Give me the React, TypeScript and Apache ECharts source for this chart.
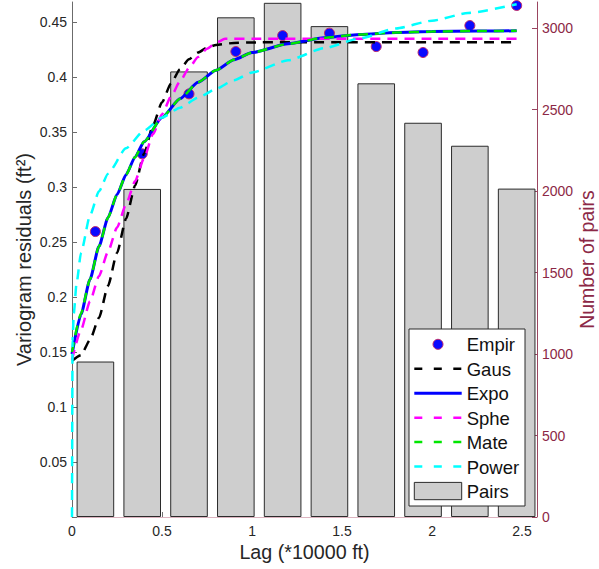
import React, { useEffect, useRef } from "react";
import * as echarts from "echarts";

// ---- data ----
const lags = [0.13, 0.39, 0.65, 0.91, 1.17, 1.43, 1.69, 1.95, 2.21, 2.47];
const empirical = [0.2594, 0.33, 0.3845, 0.423, 0.4375, 0.4397, 0.4275, 0.4221, 0.4466, 0.4648];
const pairs = [954, 2013, 2734, 3066, 3155, 3012, 2661, 2419, 2278, 2015];

const gausCurve = [
  [0, 0.142], [0.05, 0.147], [0.1, 0.161], [0.15, 0.181], [0.2, 0.21], [0.25, 0.24], [0.3, 0.271],
  [0.35, 0.301], [0.4, 0.33], [0.45, 0.356], [0.5, 0.377], [0.55, 0.394], [0.6, 0.407], [0.65, 0.416],
  [0.7, 0.422], [0.75, 0.4265], [0.8, 0.429], [0.9, 0.4308], [1.0, 0.4313], [1.5, 0.4315], [2.0, 0.4315], [2.47, 0.4315],
];
const expoCurve = [
  [0, 0.148], [0.05, 0.184], [0.1, 0.216], [0.15, 0.246], [0.2, 0.272], [0.25, 0.293], [0.3, 0.311],
  [0.35, 0.327], [0.4, 0.341], [0.5, 0.363], [0.6, 0.38], [0.7, 0.395], [0.8, 0.406], [0.9, 0.4155],
  [1.0, 0.422], [1.2, 0.43], [1.4, 0.4355], [1.6, 0.4385], [1.8, 0.4402], [2.0, 0.4411], [2.25, 0.4416], [2.47, 0.4418],
];
const spheCurve = [
  [0, 0.143], [0.05, 0.17], [0.1, 0.196], [0.15, 0.219], [0.2, 0.241], [0.25, 0.263], [0.3, 0.284],
  [0.35, 0.305], [0.4, 0.326], [0.45, 0.348], [0.5, 0.366], [0.55, 0.382], [0.6, 0.396], [0.65, 0.408],
  [0.7, 0.418], [0.75, 0.4255], [0.8, 0.431], [0.85, 0.4345], [1.0, 0.4345], [1.5, 0.4345], [2.0, 0.4345], [2.47, 0.4345],
];
const mateCurve = [
  [0, 0.15], [0.05, 0.185], [0.1, 0.216], [0.15, 0.246], [0.2, 0.272], [0.25, 0.293], [0.3, 0.311],
  [0.35, 0.327], [0.4, 0.341], [0.5, 0.363], [0.6, 0.38], [0.7, 0.395], [0.8, 0.406], [0.9, 0.4155],
  [1.0, 0.422], [1.2, 0.43], [1.4, 0.4355], [1.6, 0.4385], [1.8, 0.4402], [2.0, 0.4411], [2.25, 0.4416], [2.47, 0.4418],
];
const powerCurve = [
  [0, 0], [0.003, 0.16], [0.01, 0.185], [0.025, 0.212], [0.05, 0.24], [0.1, 0.274], [0.15, 0.296],
  [0.2, 0.312], [0.3, 0.335], [0.4, 0.351], [0.5, 0.363], [0.6, 0.372], [0.7, 0.381], [0.8, 0.389],
  [0.9, 0.397], [1.0, 0.404], [1.2, 0.415], [1.4, 0.426], [1.6, 0.435], [1.8, 0.444], [2.0, 0.451],
  [2.2, 0.458], [2.47, 0.466],
];

const xTicks = [0, 0.5, 1, 1.5, 2, 2.5];
const leftTicks = [0, 0.05, 0.1, 0.15, 0.2, 0.25, 0.3, 0.35, 0.4, 0.45];
const rightTicks = [0, 500, 1000, 1500, 2000, 2500, 3000];

const FONT = "'Liberation Sans', Arial, Helvetica, sans-serif";
const MAROON = "#8c2846";
const DASH = [10, 7];

const onTick = (ticks: number[]) => (v: number) =>
  ticks.some((t) => Math.abs(t - v) < 1e-6) ? String(+v.toFixed(3)) : "";

const legendItems = [
  { name: "Empir", kind: "dot", color: "#0a0aff" },
  { name: "Gaus", kind: "dash", color: "#000000" },
  { name: "Expo", kind: "solid", color: "#0000ff" },
  { name: "Sphe", kind: "dash", color: "#ff00ff" },
  { name: "Mate", kind: "dash", color: "#00e600" },
  { name: "Power", kind: "dash", color: "#00ffff" },
  { name: "Pairs", kind: "bar", color: "#cecece" },
];

function buildLegend() {
  const bx = 409, by = 329, bw = 116, bh = 177;
  const Z = 100;
  const out: any[] = [
    { type: "rect", z: Z, shape: { x: bx, y: by, width: bw, height: bh }, style: { fill: "#ffffff", stroke: "#2b2b2b", lineWidth: 1 } },
  ];
  legendItems.forEach((it, i) => {
    const cy = 344.3 + i * 24.45;
    const x0 = 414.3, x1 = 461.7;
    if (it.kind === "dot") {
      out.push({ type: "circle", z: Z + 1, shape: { cx: (x0 + x1) / 2, cy, r: 5 }, style: { fill: it.color, stroke: "#c02a6a", lineWidth: 1 } });
    } else if (it.kind === "bar") {
      out.push({ type: "rect", z: Z + 1, shape: { x: x0, y: cy - 8.6, width: x1 - x0, height: 17.3 }, style: { fill: it.color, stroke: "#2b2b2b", lineWidth: 1 } });
    } else {
      out.push({
        type: "line",
        z: Z + 1,
        shape: { x1: x0, y1: cy, x2: x1, y2: cy },
        style: { stroke: it.color, lineWidth: it.kind === "solid" ? 3 : 2.5, lineDash: it.kind === "solid" ? null : [8, 11.5] },
      });
    }
    out.push({
      type: "text",
      z: Z + 1,
      x: 466.7,
      y: cy + 0.5,
      style: { text: it.name, fill: "#111111", font: `18.5px ${FONT}`, verticalAlign: "middle", align: "left" },
    });
  });
  return out;
}

function lineSeries(name: string, data: number[][], color: string, solid = false) {
  return {
    name,
    type: "line",
    xAxisIndex: 0,
    yAxisIndex: 0,
    data,
    symbol: "none",
    showSymbol: false,
    smooth: 0.2,
    smoothMonotone: "x",
    z: 3,
    lineStyle: { color, width: solid ? 3 : 2.5, type: solid ? "solid" : DASH },
  };
}

export default function App() {
  const ref = useRef<HTMLDivElement>(null);
  useEffect(() => {
    if (!ref.current) return;
    const chart = echarts.init(ref.current, undefined, { renderer: "svg" });
    const option: any = {
      animation: false,
      backgroundColor: "#ffffff",
      grid: { left: 72, right: 62, top: 2, bottom: 52, containLabel: false, outerBoundsMode: "none" },
      xAxis: {
        type: "value",
        min: 0,
        max: 2.583,
        interval: 0.5,
        name: "Lag (*10000 ft)",
        nameLocation: "middle",
        nameGap: 25,
        nameMoveOverlap: false,
        nameTextStyle: { fontSize: 19.7, color: "#262626", fontFamily: FONT },
        axisLine: { show: true, onZero: false, lineStyle: { color: "#dcb4c0", width: 1 } },
        axisTick: { show: true, inside: true, length: 5, customValues: xTicks, lineStyle: { color: "#707070" } },
        axisLabel: { fontSize: 14, color: "#262626", margin: 7, fontFamily: FONT, formatter: onTick(xTicks) },
        splitLine: { show: false },
      },
      yAxis: [
        {
          type: "value",
          position: "left",
          min: 0,
          max: 0.468,
          interval: 0.05,
          name: "Variogram residuals (ft²)",
          nameLocation: "middle",
          nameGap: 38,
          nameMoveOverlap: false,
          nameTextStyle: { fontSize: 20, color: "#262626", fontFamily: FONT },
          axisLine: { show: true, onZero: false, lineStyle: { color: "#6b6b6b", width: 1 } },
          axisTick: { show: true, inside: true, length: 5, customValues: leftTicks, lineStyle: { color: "#6b6b6b" } },
          axisLabel: {
            fontSize: 14, color: "#262626", margin: 5, fontFamily: FONT,
            formatter: (v: number) => (v < 1e-9 ? "" : onTick(leftTicks)(v)),
          },
          splitLine: { show: false },
        },
        {
          type: "value",
          position: "right",
          min: 0,
          max: 3160,
          interval: 500,
          name: "Number of pairs",
          nameLocation: "middle",
          nameGap: 40,
          nameMoveOverlap: false,
          nameTextStyle: { fontSize: 19.5, color: MAROON, fontFamily: FONT },
          axisLine: { show: true, onZero: false, lineStyle: { color: "#9a4560", width: 1 } },
          axisTick: { show: true, inside: true, length: 5, customValues: rightTicks, lineStyle: { color: "#9a4560" } },
          axisLabel: { fontSize: 14, color: MAROON, margin: 5, fontFamily: FONT, formatter: onTick(rightTicks) },
          splitLine: { show: false },
        },
      ],
      series: [
        {
          name: "Pairs",
          type: "bar",
          xAxisIndex: 0,
          yAxisIndex: 1,
          barWidth: 37.6,
          z: 1,
          data: lags.map((l, i) => [l, pairs[i]]),
          itemStyle: { color: "#cecece", borderColor: "#2b2b2b", borderWidth: 1 },
        },
        {
          name: "Empir",
          type: "scatter",
          xAxisIndex: 0,
          yAxisIndex: 0,
          symbol: "circle",
          symbolSize: 10,
          z: 2,
          data: lags.map((l, i) => [l, empirical[i]]),
          itemStyle: { color: "#0a0aff", borderColor: "#c02a6a", borderWidth: 1, opacity: 1 },
        },
        lineSeries("Gaus", gausCurve, "#000000"),
        lineSeries("Expo", expoCurve, "#0000ff", true),
        lineSeries("Sphe", spheCurve, "#ff00ff"),
        lineSeries("Mate", mateCurve, "#00e600"),
        lineSeries("Power", powerCurve, "#00ffff"),
      ],
      graphic: buildLegend(),
    };
    chart.setOption(option);
    return () => chart.dispose();
  }, []);
  return (
    <div
      ref={ref}
      style={{ position: "fixed", left: 0, top: 0, width: 599, height: 569, background: "#fff" }}
    />
  );
}
